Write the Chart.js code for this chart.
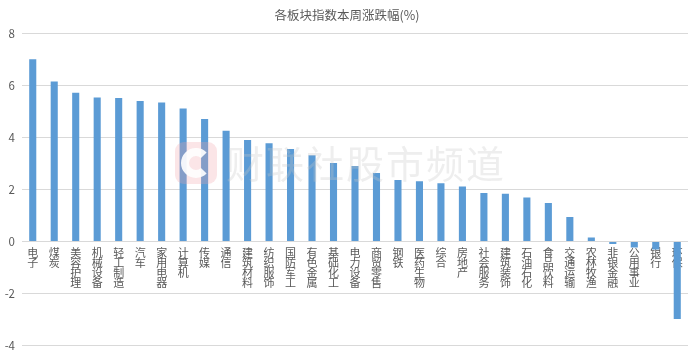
<!DOCTYPE html>
<html>
<head>
<meta charset="utf-8">
<script src="https://cdn.jsdelivr.net/npm/chart.js@4/dist/chart.umd.min.js"></script>
<style>
html,body{margin:0;padding:0;background:#fff;}
#wrap{width:692px;height:356px;position:relative;}
</style>
</head>
<body>
<div id="wrap"><canvas id="c" width="692" height="356"></canvas></div>
<script>
const titleText = "各板块指数本周涨跌幅(%)";
const watermarkText = "财联社股市频道";
const categories = ["电子","煤炭","美容护理","机械设备","轻工制造","汽车","家用电器","计算机","传媒","通信","建筑材料","纺织服饰","国防军工","有色金属","基础化工","电力设备","商贸零售","钢铁","医药生物","综合","房地产","社会服务","建筑装饰","石油石化","食品饮料","交通运输","农林牧渔","非银金融","公用事业","银行","环保"];
const changes = [7.01,6.15,5.72,5.54,5.52,5.40,5.35,5.12,4.71,4.26,3.90,3.78,3.56,3.32,3.02,2.90,2.63,2.37,2.32,2.24,2.12,1.87,1.84,1.69,1.48,0.94,0.15,-0.10,-0.23,-0.31,-2.98];
const yTicks = [-4,-2,0,2,4,6,8];

const FONT = "'Noto Sans CJK SC', 'Noto Sans', sans-serif";

const overlay = {
  id: 'overlay',
  afterDraw(chart) {
    const ctx = chart.ctx;
    ctx.save();
    // title
    ctx.fillStyle = '#595959';
    ctx.font = "12.5px " + FONT;
    ctx.textAlign = 'center';
    ctx.textBaseline = 'middle';
    ctx.fillText(titleText, 347, 15);
    // watermark logo
    ctx.globalAlpha = 0.28;
    const x = 175, y = 142, s = 42, r = 9;
    ctx.fillStyle = '#f2a0a8';
    ctx.beginPath();
    ctx.moveTo(x + r, y);
    ctx.arcTo(x + s, y, x + s, y + s, r);
    ctx.arcTo(x + s, y + s, x, y + s, r);
    ctx.arcTo(x, y + s, x, y, r);
    ctx.arcTo(x, y, x + s, y, r);
    ctx.closePath();
    ctx.fill();
    ctx.globalAlpha = 0.9;
    ctx.strokeStyle = '#ffffff';
    ctx.lineWidth = 8;
    ctx.beginPath();
    ctx.arc(x + s / 2, y + s / 2, 11, Math.PI * 0.25, Math.PI * 1.75);
    ctx.stroke();
    // watermark text
    ctx.globalAlpha = 0.3;
    ctx.fillStyle = '#c8c8c8';
    ctx.font = "38px " + FONT;
    ctx.textAlign = 'left';
    ctx.textBaseline = 'middle';
    let tx = 226;
    for (const ch of watermarkText) {
      ctx.fillText(ch, tx, 164);
      tx += 40;
    }
    ctx.restore();
  }
};

new Chart(document.getElementById('c'), {
  type: 'bar',
  data: {
    labels: categories.map(s => s.split('')),
    datasets: [{
      data: changes,
      backgroundColor: '#5B9BD5',
      borderWidth: 0,
      categoryPercentage: 1,
      barPercentage: 0.33
    }]
  },
  options: {
    responsive: false,
    animation: false,
    devicePixelRatio: 1,
    layout: { padding: { top: 33.5, right: 4, bottom: 10.5, left: 0 } },
    plugins: { legend: { display: false }, tooltip: { enabled: false }, title: { display: false } },
    scales: {
      x: {
        position: { y: 0 },
        grid: { display: false, drawTicks: false },
        border: { display: false },
        ticks: {
          autoSkip: false,
          maxRotation: 0,
          minRotation: 0,
          padding: 6,
          color: '#595959',
          font: { family: FONT, size: 11, lineHeight: 0.92 }
        }
      },
      y: {
        min: -4,
        max: 8,
        afterBuildTicks(scale) { scale.ticks = yTicks.map(v => ({ value: v })); },
        afterFit(scale) { scale.width = 22; scale.paddingTop = 0; scale.paddingBottom = 0; },
        grid: { color: '#d9d9d9', drawTicks: false },
        border: { display: false },
        ticks: {
          padding: 7,
          color: '#595959',
          font: { family: FONT, size: 11.5 }
        }
      }
    }
  },
  plugins: [overlay]
});
</script>
</body>
</html>
